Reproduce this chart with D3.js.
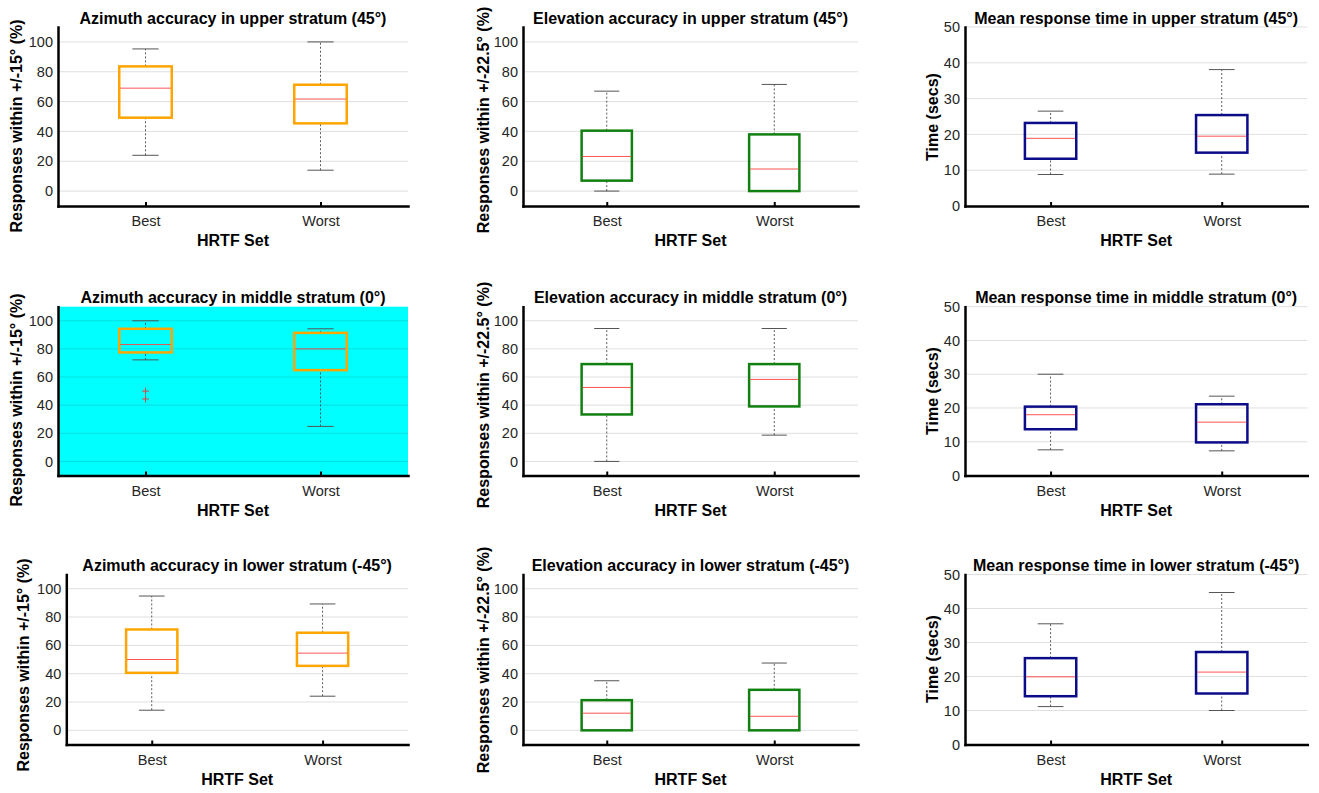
<!DOCTYPE html>
<html><head><meta charset="utf-8">
<script src="https://cdn.jsdelivr.net/npm/d3@7"></script>
<style>
html,body{margin:0;padding:0;background:#fff;}
svg{display:block;font-family:"Liberation Sans",Arial,Helvetica,sans-serif;}
</style></head>
<body><svg id="c" width="1319" height="793"></svg>
<script>
// ---------- DATA ----------
const categories = ["Best", "Worst"];
const pctTicks = [0, 20, 40, 60, 80, 100];
const timeTicks = [0, 10, 20, 30, 40, 50];
const titles = [
  "Azimuth accuracy in upper stratum (45°)", "Elevation accuracy in upper stratum (45°)", "Mean response time in upper stratum (45°)",
  "Azimuth accuracy in middle stratum (0°)", "Elevation accuracy in middle stratum (0°)", "Mean response time in middle stratum (0°)",
  "Azimuth accuracy in lower stratum (-45°)", "Elevation accuracy in lower stratum (-45°)", "Mean response time in lower stratum (-45°)"
];
const yLabels = ["Responses within +/-15° (%)", "Responses within +/-22.5° (%)", "Time (secs)"];
const xLabel = "HRTF Set";
// each box: [lower whisker, Q1, median, Q3, upper whisker]
const azUpperBest    = [24, 49.2, 69, 83.6, 95.3];
const azUpperWorst   = [14, 45.4, 61.7, 71.3, 100];
const elUpperBest    = [0, 7, 23.2, 40.5, 67];
const elUpperWorst   = [0, 0, 14.8, 38, 71.5];
const timeUpperBest  = [8.8, 13.2, 18.9, 23.2, 26.5];
const timeUpperWorst = [8.9, 14.9, 19.5, 25.4, 38.1];
const azMiddleBest    = [72.2, 77.5, 83.1, 94.3, 100];
const azMiddleWorst   = [24.9, 64.9, 80, 91.4, 94.3];
const elMiddleBest    = [0, 33.4, 52.6, 69.2, 94.5];
const elMiddleWorst   = [18.7, 39.1, 58.3, 69.2, 94.5];
const timeMiddleBest  = [7.6, 13.7, 18, 20.4, 30];
const timeMiddleWorst = [7.3, 9.8, 15.8, 21.1, 23.5];
const azLowerBest    = [14.2, 40.6, 50, 71.2, 94.8];
const azLowerWorst   = [24.1, 45.5, 54.5, 68.9, 89.2];
const elLowerBest    = [0, 0, 12.1, 21.3, 35];
const elLowerWorst   = [0, 0, 9.9, 28.6, 47.5];
const timeLowerBest  = [11.15, 14.2, 19.9, 25.4, 35.5];
const timeLowerWorst = [10, 15, 21.3, 27.2, 44.7];
const azMiddleBestOutliers = [50, 44.4];

// ---------- LAYOUT ----------
const colColors = ["#ffa500", "#118011", "#0c0c88"];
const rowsY = [[27, 206], [306.7, 475.5], [574.5, 744.5]];
const colsX = [[58, 408], [523, 858], [965, 1307.3]];
const ylabPos = [
  [[16,126],[483,120],[932,117]],
  [[16,400],[483,395],[932,391]],
  [[23.5,665],[483,660],[932,659]]
];
const stats = [
  [[azUpperBest, azUpperWorst], [elUpperBest, elUpperWorst], [timeUpperBest, timeUpperWorst]],
  [[azMiddleBest, azMiddleWorst], [elMiddleBest, elMiddleWorst], [timeMiddleBest, timeMiddleWorst]],
  [[azLowerBest, azLowerWorst], [elLowerBest, elLowerWorst], [timeLowerBest, timeLowerWorst]]
];

const svg = d3.select("#c");

for (let r = 0; r < 3; r++) {
  for (let c = 0; c < 3; c++) {
    const [y0, y1] = rowsY[r];
    let [x0, x1] = colsX[c];
    if (r === 2 && c === 0) x0 = 66.3;
    const isTime = c === 2;
    const ticks = isTime ? timeTicks : pctTicks;
    const x = d3.scaleLinear().domain([0.5, 2.5]).range([x0, x1]);
    const y = d3.scaleLinear().domain(isTime ? [0, 50] : [-10, 110]).range([y1, y0]);
    const g = svg.append("g");

    if (r === 1 && c === 0) {
      g.append("rect").attr("x", x0).attr("y", y0).attr("width", x1 - x0).attr("height", y1 - y0).attr("fill", "#00ffff");
    }
    // grid
    g.selectAll(".grid").data(ticks).join("line")
      .attr("x1", x0).attr("x2", x1).attr("y1", d => y(d)).attr("y2", d => y(d))
      .attr("stroke", "#262626").attr("stroke-opacity", 0.15).attr("stroke-width", 1);

    // boxes
    const col = colColors[c];
    stats[r][c].forEach((s, i) => {
      const cx = x(i + 1);
      const [lo, q1, med, q3, hi] = s;
      const bx0 = x(i + 1 - 0.15), bx1 = x(i + 1 + 0.15);
      const cx0 = x(i + 1 - 0.075), cx1 = x(i + 1 + 0.075);
      // whisker stems
      [[q3, hi], [lo, q1]].forEach(([a, b]) => {
        if (b > a) g.append("line").attr("x1", cx).attr("x2", cx).attr("y1", y(a)).attr("y2", y(b))
          .attr("stroke", "#333").attr("stroke-width", 0.8).attr("stroke-dasharray", "2,2");
      });
      // caps
      [lo, hi].forEach(v => {
        g.append("line").attr("x1", cx0).attr("x2", cx1).attr("y1", y(v)).attr("y2", y(v))
          .attr("stroke", "#555").attr("stroke-width", 1);
      });
      // box
      g.append("rect").attr("x", bx0).attr("y", y(q3)).attr("width", bx1 - bx0).attr("height", y(q1) - y(q3))
        .attr("fill", "none").attr("stroke", col).attr("stroke-width", 2.5);
      // median
      g.append("line").attr("x1", bx0 + 1).attr("x2", bx1 - 1).attr("y1", y(med)).attr("y2", y(med))
        .attr("stroke", "#ff4040").attr("stroke-width", 0.9);
    });
    if (r === 1 && c === 0) {
      const cx = x(1);
      azMiddleBestOutliers.forEach(v => {
        g.append("path").attr("d", `M${cx - 3.5},${y(v)}H${cx + 3.5}M${cx},${y(v) - 3.5}V${y(v) + 3.5}`)
          .attr("stroke", "#e04040").attr("stroke-width", 1).attr("fill", "none");
      });
    }

    // axes
    const ya = g.append("g").attr("transform", `translate(${x0},0)`)
      .call(d3.axisLeft(y).tickValues(ticks).tickSize(0).tickPadding(5).tickFormat(d3.format("d")));
    ya.select(".domain").attr("stroke", "#000").attr("stroke-width", 2.5).attr("stroke-linecap", "square");
    ya.selectAll("text").attr("font-size", 14.5).attr("fill", "#262626")
      .attr("font-family", "'Liberation Sans',Arial,Helvetica,sans-serif");

    const xa = g.append("g").attr("transform", `translate(0,${y1})`)
      .call(d3.axisBottom(x).tickValues([1, 2]).tickFormat(d => categories[d - 1]).tickSizeInner(-4).tickSizeOuter(0).tickPadding(10));
    xa.select(".domain").attr("stroke", "#000").attr("stroke-width", 2.5).attr("stroke-linecap", "square");
    xa.selectAll(".tick line").attr("stroke", "#000").attr("stroke-width", 2);
    xa.selectAll("text").attr("font-size", 14.5).attr("fill", "#262626")
      .attr("font-family", "'Liberation Sans',Arial,Helvetica,sans-serif");

    // title
    g.append("text").attr("x", (x0 + x1) / 2).attr("y", y0 - 9).attr("dy", "0.35em")
      .attr("text-anchor", "middle").attr("font-size", 16).attr("font-weight", "bold").attr("fill", "#000")
      .text(titles[r * 3 + c]);
    // x label
    g.append("text").attr("x", (x0 + x1) / 2).attr("y", y1 + 34.5).attr("dy", "0.35em")
      .attr("text-anchor", "middle").attr("font-size", 16).attr("font-weight", "bold").attr("fill", "#000")
      .text(xLabel);
    // y label
    const [lx, ly] = ylabPos[r][c];
    g.append("text").attr("transform", `translate(${lx},${ly}) rotate(-90)`).attr("dy", "0.35em")
      .attr("text-anchor", "middle").attr("font-size", 16).attr("font-weight", "bold").attr("fill", "#000")
      .text(yLabels[c]);
  }
}
</script></body></html>
